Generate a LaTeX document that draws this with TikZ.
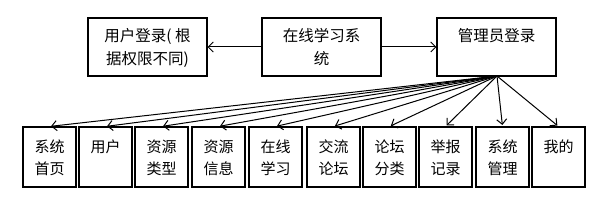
\documentclass[tikz,border=0pt]{standalone}
\usepackage{fontspec}
\setmainfont{Noto Sans CJK SC}
\usetikzlibrary{arrows.meta}
\begin{document}
\begin{tikzpicture}[x=1pt,y=-1pt,
  box/.style={draw, line width=1.1pt, inner sep=0pt},
  topbox/.style={box, minimum width=119pt, minimum height=58pt},
  botbox/.style={box, minimum width=53pt, minimum height=60pt},
  toptxt/.style={anchor=north, inner sep=0pt, align=center, font=\fontsize{15.5}{23}\selectfont},
  bottxt/.style={anchor=north, inner sep=0pt, align=center, font=\fontsize{15}{22}\selectfont},
  arr/.style={-{Straight Barb[length=5pt,width=10pt,line width=1pt]}, line width=1pt}]
\useasboundingbox (0,0) rectangle (601,200);
% top row
\node[topbox] (user) at (147.5,47) {};
\node[toptxt] (userT) at (147.5,28) {用户登录( 根\\据权限不同)};
\node[topbox] (sys) at (321.5,47) {};
\node[toptxt] (sysT) at (321.5,28) {在线学习系\\统};
\node[topbox] (admin) at (496.5,47) {};
\node[toptxt] (adminT) at (496.5,28) {管理员登录};
\draw[arr] (sys) -- (user);
\draw[arr] (sys) -- (admin);
% bottom row
\coordinate (src) at (497,76);
\foreach \i/\x/\t in {1/49.5/{系统\\首页},2/105.5/{用户},3/161.5/{资源\\类型},4/218.5/{资源\\信息},5/275.5/{在线\\学习},6/333.5/{交流\\论坛},7/389.5/{论坛\\分类},8/445.5/{举报\\记录},9/502.5/{系统\\管理},10/558.5/{我的}}{
  \node[botbox] (b\i) at (\x,157) {};
  \node[bottxt] (t\i) at (\x,139.5) {\t};
  \draw[arr, shorten >=1.5pt] (src) -- (b\i.north);
}
\end{tikzpicture}
\end{document}
